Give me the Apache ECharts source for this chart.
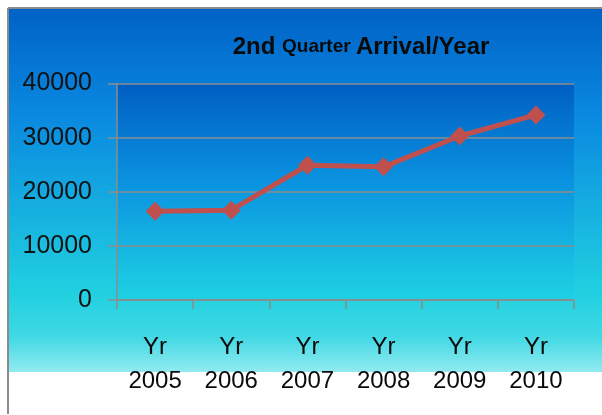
<!DOCTYPE html>
<html>
<head>
<meta charset="utf-8">
<script src="https://cdn.jsdelivr.net/npm/echarts@6/dist/echarts.min.js"></script>
<style>
  html, body { margin: 0; padding: 0; background: #ffffff; }
  #chart { width: 602px; height: 415px; }
</style>
</head>
<body>
<div id="chart"></div>
<script>
// Second-quarter arrivals per year
const categories = ['Yr\n2005', 'Yr\n2006', 'Yr\n2007', 'Yr\n2008', 'Yr\n2009', 'Yr\n2010'];
const arrivals = [16400, 16600, 24900, 24600, 30300, 34200];
const yTicks = { min: 0, max: 40000, interval: 10000 };

const FONT = '"Liberation Sans", Arial, sans-serif';
const chart = echarts.init(document.getElementById('chart'), null, { renderer: 'canvas' });

chart.setOption({
  animation: false,
  backgroundColor: '#ffffff',
  graphic: [
    // chart area panel with its vertical gradient
    {
      type: 'rect', z: -10, silent: true,
      shape: { x: 8, y: 9, width: 594, height: 363 },
      style: {
        fill: new echarts.graphic.LinearGradient(0, 0, 0, 1, [
          { offset: 0, color: '#0062c6' },
          { offset: 0.3, color: '#0a8ae0' },
          { offset: 0.78, color: '#20d0e0' },
          { offset: 0.9, color: '#3ed8e4' },
          { offset: 1, color: '#92eaf0' }
        ])
      }
    },
    // frame lines on the top and left
    {
      type: 'line', z: -5, silent: true,
      shape: { x1: 8, y1: 8, x2: 602, y2: 8 },
      style: { stroke: '#8a8a8a', lineWidth: 2 }
    },
    {
      type: 'line', z: -5, silent: true,
      shape: { x1: 8, y1: 8, x2: 8, y2: 414 },
      style: { stroke: '#8a8a8a', lineWidth: 2 }
    }
  ],
  title: {
    text: '{a|2nd }{b|Quarter }{a|Arrival/Year}',
    left: 356,
    textAlign: 'center',
    top: 30,
    textStyle: {
      rich: {
        a: { fontFamily: FONT, fontSize: 24, fontWeight: 'bold', color: '#0a0a0a' },
        b: { fontFamily: FONT, fontSize: 19, fontWeight: 'bold', color: '#0a0a0a' }
      }
    }
  },
  grid: {
    left: 117, right: 28, top: 83.5, bottom: 115,
    show: true,
    borderWidth: 0,
    backgroundColor: new echarts.graphic.LinearGradient(0, 0, 0, 1, [
      { offset: 0, color: '#005ec2' },
      { offset: 0.45, color: '#0a92e0' },
      { offset: 1, color: '#1ed2e2' }
    ])
  },
  xAxis: {
    type: 'category',
    data: categories,
    boundaryGap: true,
    axisLine: { show: true, lineStyle: { color: '#8c8c8c', width: 1.5 } },
    axisTick: { show: true, length: 9, interval: 0, lineStyle: { color: '#8c8c8c', width: 1.5 } },
    axisLabel: {
      interval: 0,
      margin: 30,
      fontFamily: FONT,
      fontSize: 24,
      lineHeight: 34,
      color: '#0a0a0a'
    },
    splitLine: { show: false }
  },
  yAxis: {
    type: 'value',
    min: yTicks.min, max: yTicks.max, interval: yTicks.interval,
    axisLine: { show: true, lineStyle: { color: '#8c8c8c', width: 1.5 } },
    axisTick: { show: true, length: 9, lineStyle: { color: '#8c8c8c', width: 1.5 } },
    axisLabel: {
      margin: 25,
      fontFamily: FONT,
      fontSize: 25,
      color: '#111111',
      formatter: (v) => String(v)
    },
    splitLine: { show: true, lineStyle: { color: '#8c8c8c', width: 1.5 } }
  },
  series: [{
    type: 'line',
    data: arrivals,
    symbol: 'diamond',
    symbolSize: 19,
    lineStyle: { color: '#c0504d', width: 5 },
    itemStyle: { color: '#c0504d' },
    z: 5
  }]
});
</script>
</body>
</html>
